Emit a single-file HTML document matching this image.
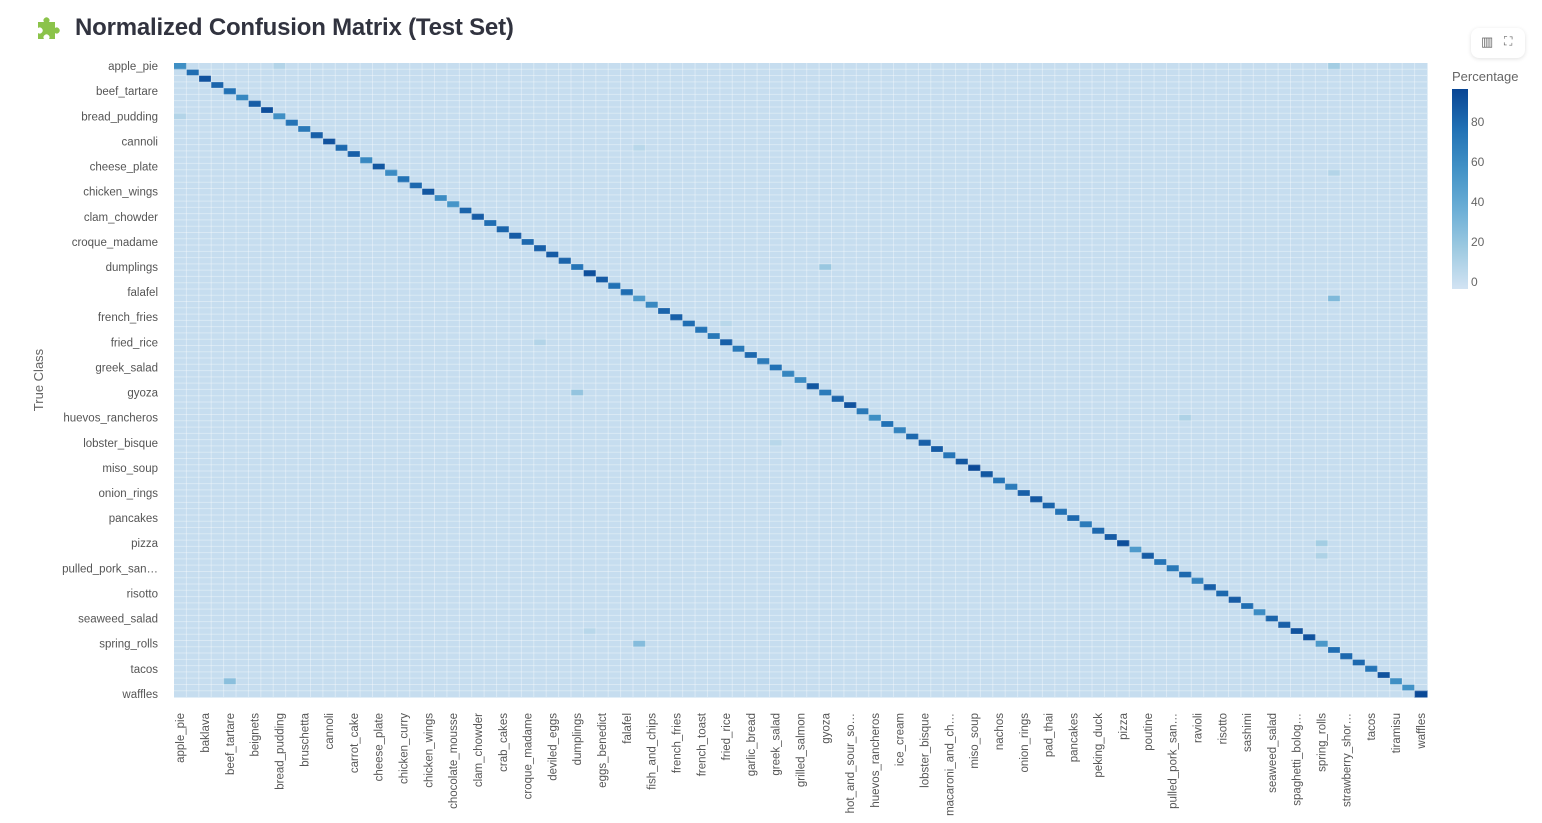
<!DOCTYPE html>
<html><head><meta charset="utf-8">
<style>
body{margin:0;background:#fff;width:1542px;height:823px;overflow:hidden;font-family:"Liberation Sans",sans-serif;}
#title{position:absolute;left:75px;top:14px;font-size:24px;font-weight:bold;color:#31333f;letter-spacing:-0.2px;}
#toolbar{position:absolute;left:1471px;top:28px;width:54px;height:30px;border-radius:8px;background:#fff;box-shadow:0 1px 4px rgba(0,0,0,0.12);}
</style></head><body>
<svg style="position:absolute;left:34px;top:14px" width="30" height="30" viewBox="0 0 30 30">
<path d="M4 8h6a3 3 0 1 1 5 0h6v6a3 3 0 1 1 0 5v6h-6a3 3 0 1 0-5 0H4v-6a3 3 0 1 0 0-5z" fill="#8bc34a"/></svg>
<div id="title">Normalized Confusion Matrix (Test Set)</div>
<div id="toolbar">
<span style="position:absolute;left:10px;top:6px;font-size:13px;color:#666">▥</span>
<span style="position:absolute;left:33px;top:6px;font-size:12px;color:#666">⛶</span></div>
<svg id="chart" width="1542" height="823" style="position:absolute;left:0;top:0"></svg>
<script>
const classes=["apple_pie","baby_back_ribs","baklava","beef_carpaccio","beef_tartare","beet_salad","beignets","bibimbap","bread_pudding","breakfast_burrito","bruschetta","caesar_salad","cannoli","caprese_salad","carrot_cake","ceviche","cheese_plate","cheesecake","chicken_curry","chicken_quesadilla","chicken_wings","chocolate_cake","chocolate_mousse","churros","clam_chowder","club_sandwich","crab_cakes","creme_brulee","croque_madame","cup_cakes","deviled_eggs","donuts","dumplings","edamame","eggs_benedict","escargots","falafel","filet_mignon","fish_and_chips","foie_gras","french_fries","french_onion_soup","french_toast","fried_calamari","fried_rice","frozen_yogurt","garlic_bread","gnocchi","greek_salad","grilled_cheese_sandwich","grilled_salmon","guacamole","gyoza","hamburger","hot_and_sour_soup","hot_dog","huevos_rancheros","hummus","ice_cream","lasagna","lobster_bisque","lobster_roll_sandwich","macaroni_and_cheese","macarons","miso_soup","mussels","nachos","omelette","onion_rings","oysters","pad_thai","paella","pancakes","panna_cotta","peking_duck","pho","pizza","pork_chop","poutine","prime_rib","pulled_pork_sandwich","ramen","ravioli","red_velvet_cake","risotto","samosa","sashimi","scallops","seaweed_salad","shrimp_and_grits","spaghetti_bolognese","spaghetti_carbonara","spring_rolls","steak","strawberry_shortcake","sushi","tacos","takoyaki","tiramisu","tuna_tartare","waffles"];
const diag=[58,78,90,82,76,62,85,92,58,75,72,84,90,80,84,62,88,60,76,80,88,60,54,82,86,78,82,86,80,84,86,82,74,92,86,76,78,50,62,82,84,78,74,72,84,72,80,70,76,64,60,88,70,82,90,72,58,76,66,80,84,86,74,88,94,88,74,70,84,88,82,76,80,70,80,86,92,50,86,74,72,80,66,84,80,86,78,60,82,84,90,90,52,78,80,80,74,90,58,56,94];
const offRow=[0,0,37,98,92,52,32,76,78,8,17,44,56,60,13,41,90];
const offCol=[93,8,93,4,37,32,52,92,92,0,93,29,81,48,37,44,33];
const offVal=[14,8,28,24,26,20,18,14,10,8,8,8,10,6,6,6,6];
const cbTicks=[0,20,40,60,80];
const zmin=-4,zmax=96;
const stops=[[210,227,243],[158,202,225],[107,174,214],[66,146,198],[33,113,181],[8,69,148]];
function color(v){let t=Math.max(0,Math.min(1,(v-zmin)/(zmax-zmin)))*5;let i=Math.min(4,Math.floor(t)),f=t-i;const a=stops[i],b=stops[i+1];return `rgb(${a.map((c,k)=>Math.round(c+(b[k]-c)*f)).join(',')})`;}
const X0=174,X1=1427,Y0=63,Y1=697,n=classes.length;
const cw=(X1-X0)/n,ch=(Y1-Y0)/n;
const xPos=j=>X0+j*cw, yPos=i=>Y0+i*ch;
const svg=document.getElementById('chart');const NS='http://www.w3.org/2000/svg';
function mk(tag,attrs,parent){const e=document.createElementNS(NS,tag);for(const k in attrs)e.setAttribute(k,attrs[k]);(parent||svg).appendChild(e);return e;}
const M=[];for(let i=0;i<n;i++){M.push(new Array(n).fill(0.5));M[i][i]=diag[i];}
offRow.forEach((r,k)=>{M[r][offCol[k]]=offVal[k];});
const g=mk('g',{'shape-rendering':'crispEdges'});


for(let i=0;i<n;i++)for(let j=0;j<n;j++){
 const r=mk('rect',{x:xPos(j),y:yPos(i),width:cw+0.3,height:ch+0.3,fill:color(M[i][j])},g);
 
 
}
const gl=mk('g',{stroke:'rgba(255,255,255,0.35)','stroke-width':'1'});


for(let k=1;k<n;k++){
 mk('line',{x1:xPos(k),x2:xPos(k),y1:Y0,y2:Y1},gl);
 mk('line',{x1:X0,x2:X1,y1:yPos(k),y2:yPos(k)},gl);
}
function trunc(s){return s.length>16?s.slice(0,15)+'…':s;}
for(let j=0;j<n;j+=2){
 const x=xPos(j)+cw/2+4;
 const t=mk('text',{x:x,y:713,transform:`rotate(-90 ${x} 713)`,'text-anchor':'end','font-size':'11.5',fill:'#555','font-family':'Liberation Sans, sans-serif'});
 t.textContent=trunc(classes[j]);
 
 
}
for(let i=0;i<n;i+=4){
 const t=mk('text',{x:158,y:yPos(i)+ch/2+4,'text-anchor':'end','font-size':'11.5',fill:'#555','font-family':'Liberation Sans, sans-serif'});
 t.textContent=trunc(classes[i]);
 
 
}
const yt=mk('text',{x:43,y:380,transform:'rotate(-90 43 380)','text-anchor':'middle','font-size':'13',fill:'#666','font-family':'Liberation Sans, sans-serif'});
yt.textContent='True Class';


const CB0=89,CB1=289;const cbY=v=>CB1-(v-zmin)/(zmax-zmin)*(CB1-CB0);
const defs=mk('defs',{});const lg=mk('linearGradient',{id:'cbg',x1:0,y1:1,x2:0,y2:0},defs);
stops.forEach((s,k)=>mk('stop',{offset:k/5,'stop-color':`rgb(${s.join(',')})`},lg));
const cb=mk('rect',{x:1452,y:CB0,width:16,height:CB1-CB0,fill:'url(#cbg)'});


cbTicks.forEach(v=>{const t=mk('text',{x:1471,y:cbY(v)+5,'font-size':'12',fill:'#666','font-family':'Liberation Sans, sans-serif'});t.textContent=v;
 
 });
const ct=mk('text',{x:1452,y:81,'font-size':'13',fill:'#666','font-family':'Liberation Sans, sans-serif'});ct.textContent='Percentage';


</script>
</body></html>
